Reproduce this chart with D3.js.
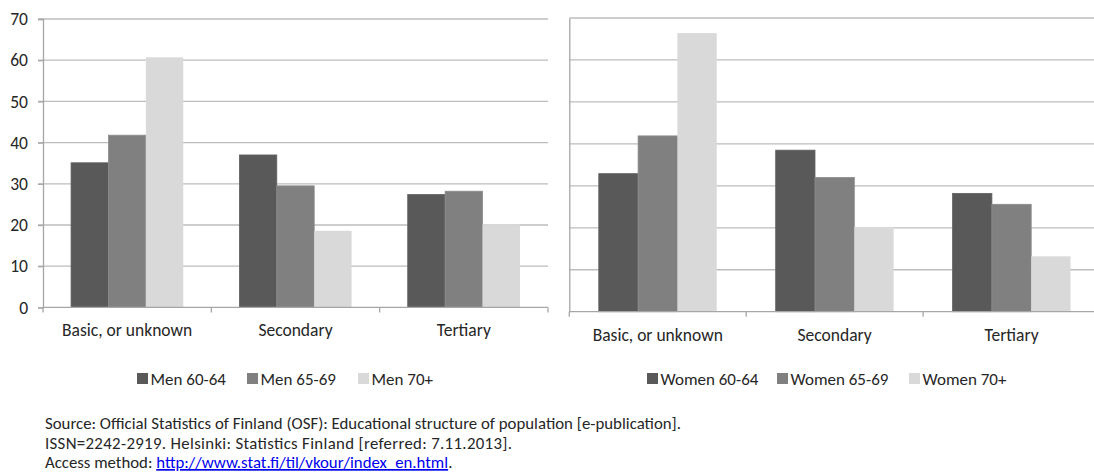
<!DOCTYPE html>
<html>
<head>
<meta charset="utf-8">
<script src="https://cdn.jsdelivr.net/npm/d3@7"></script>
<style>
  html, body { margin: 0; padding: 0; background: #fff; }
  svg { display: block; }
  text { font-family: Carlito, Calibri, Lato, "Open Sans", sans-serif; fill: #262626; }
</style>
</head>
<body>
<script>
// ---- data ----
const categories = ["Basic, or unknown", "Secondary", "Tertiary"];
const menSeries = ["Men 60-64", "Men 65-69", "Men 70+"];
const womenSeries = ["Women 60-64", "Women 65-69", "Women 70+"];
// values per series, in category order
const men6064 = [35.1, 37.0, 27.4];
const men6569 = [41.8, 29.5, 28.2];
const men70 = [60.7, 18.6, 20.2];
const women6064 = [32.9, 38.5, 28.2];
const women6569 = [41.9, 32.0, 25.6];
const women70 = [66.4, 20.2, 13.2];
const yTicks = [0, 10, 20, 30, 40, 50, 60, 70];
const footLines = [
  "Source: Official Statistics of Finland (OSF): Educational structure of population [e-publication].",
  "ISSN=2242-2919. Helsinki: Statistics Finland [referred: 7.11.2013]."
];
const accessLabel = "Access method: ";
const accessUrl = "http://www.stat.fi/til/vkour/index_en.html";

const colors = ["#595959", "#808080", "#d9d9d9"];
const gridColor = "#bdbdbd";
const axisColor = "#a6a6a6";

const W = 1094, H = 473;
const svg = d3.select("body").append("svg").attr("width", W).attr("height", H);
svg.append("rect").attr("width", W).attr("height", H).attr("fill", "#fff");

function drawChart(opts) {
  const { x0, x1, yTop, yBottom, seriesNames, seriesValues, showYLabels, legendX } = opts;
  const g = svg.append("g");
  const y = d3.scaleLinear().domain([0, 70]).range([yBottom, yTop]);
  const x = d3.scaleBand().domain(categories).range([x0, x1]).paddingInner(0).paddingOuter(0);
  const xi = d3.scaleBand().domain(d3.range(seriesNames.length)).range([0, x.bandwidth()])
    .paddingInner(0).paddingOuter(0.75);

  // gridlines
  g.append("g").selectAll("line").data(yTicks.filter(d => d > 0)).join("line")
    .attr("x1", showYLabels ? x0 - 5 : x0).attr("x2", x1)
    .attr("y1", d => y(d)).attr("y2", d => y(d))
    .attr("stroke", gridColor).attr("stroke-width", 1.3);

  // y axis
  const yAxis = d3.axisLeft(y).tickValues(yTicks).tickSize(showYLabels ? 5 : 0).tickPadding(10);
  const ya = g.append("g").attr("transform", `translate(${x0},0)`).call(yAxis);
  ya.select(".domain").attr("stroke", axisColor).attr("stroke-width", 1.3);
  ya.selectAll(".tick line").attr("stroke", axisColor).attr("stroke-width", 1.3);
  ya.selectAll(".tick text").attr("font-size", 17.5).attr("fill", "#262626")
    .style("font-family", "Carlito, Calibri, Lato, sans-serif")
    .attr("opacity", showYLabels ? 1 : 0);

  // bars
  seriesNames.forEach((s, si) => {
    g.append("g").selectAll("rect").data(categories).join("rect")
      .attr("x", c => x(c) + xi(si))
      .attr("width", xi.bandwidth())
      .attr("y", (c, ci) => y(seriesValues[si][ci]))
      .attr("height", (c, ci) => y(0) - y(seriesValues[si][ci]))
      .attr("fill", colors[si])
      .attr("stroke", si === 2 ? "none" : d3.color(colors[si]).brighter(0.25))
      .attr("stroke-width", 0.8);
  });

  // x axis line and boundary ticks
  g.append("line").attr("x1", x0).attr("x2", x1).attr("y1", y(0)).attr("y2", y(0))
    .attr("stroke", axisColor).attr("stroke-width", 1.3);
  const bounds = categories.map(c => x(c)).concat([x(categories[categories.length - 1]) + x.bandwidth()]);
  g.append("g").selectAll("line").data(bounds).join("line")
    .attr("x1", d => d).attr("x2", d => d)
    .attr("y1", y(0)).attr("y2", y(0) + 5)
    .attr("stroke", axisColor).attr("stroke-width", 1.3);

  // category labels
  g.append("g").selectAll("text").data(categories).join("text")
    .attr("x", c => x(c) + x.bandwidth() / 2)
    .attr("y", yBottom + 29)
    .attr("text-anchor", "middle")
    .attr("font-size", 17.5)
    .text(c => c);

  // legend
  const lg = g.append("g");
  seriesNames.forEach((s, si) => {
    lg.append("rect").attr("x", legendX[si]).attr("y", 373).attr("width", 11).attr("height", 11)
      .attr("fill", colors[si]);
    lg.append("text").attr("x", legendX[si] + 13.5).attr("y", 384.5)
      .attr("font-size", 17).text(s);
  });
}

drawChart({
  x0: 43, x1: 548, yTop: 19, yBottom: 307.4,
  seriesNames: menSeries, seriesValues: [men6064, men6569, men70],
  showYLabels: true, legendX: [137, 247, 358]
});
drawChart({
  x0: 569.3, x1: 1100, yTop: 18, yBottom: 311.7,
  seriesNames: womenSeries, seriesValues: [women6064, women6569, women70],
  showYLabels: false, legendX: [647, 777, 909]
});

// footnote
const fn = svg.append("g");
const footWidths = [636, 467];
footLines.forEach((t, i) => {
  fn.append("text").attr("x", 45).attr("y", 429 + i * 19.5).attr("font-size", 16.8)
    .attr("textLength", footWidths[i]).attr("lengthAdjust", "spacing").text(t);
});
const l3 = fn.append("text").attr("x", 45).attr("y", 468).attr("font-size", 16.8);
l3.append("tspan").text(accessLabel);
l3.append("tspan").text(accessUrl).style("fill", "#0000ee").attr("text-decoration", "underline");
l3.append("tspan").text(".");
</script>
</body>
</html>
